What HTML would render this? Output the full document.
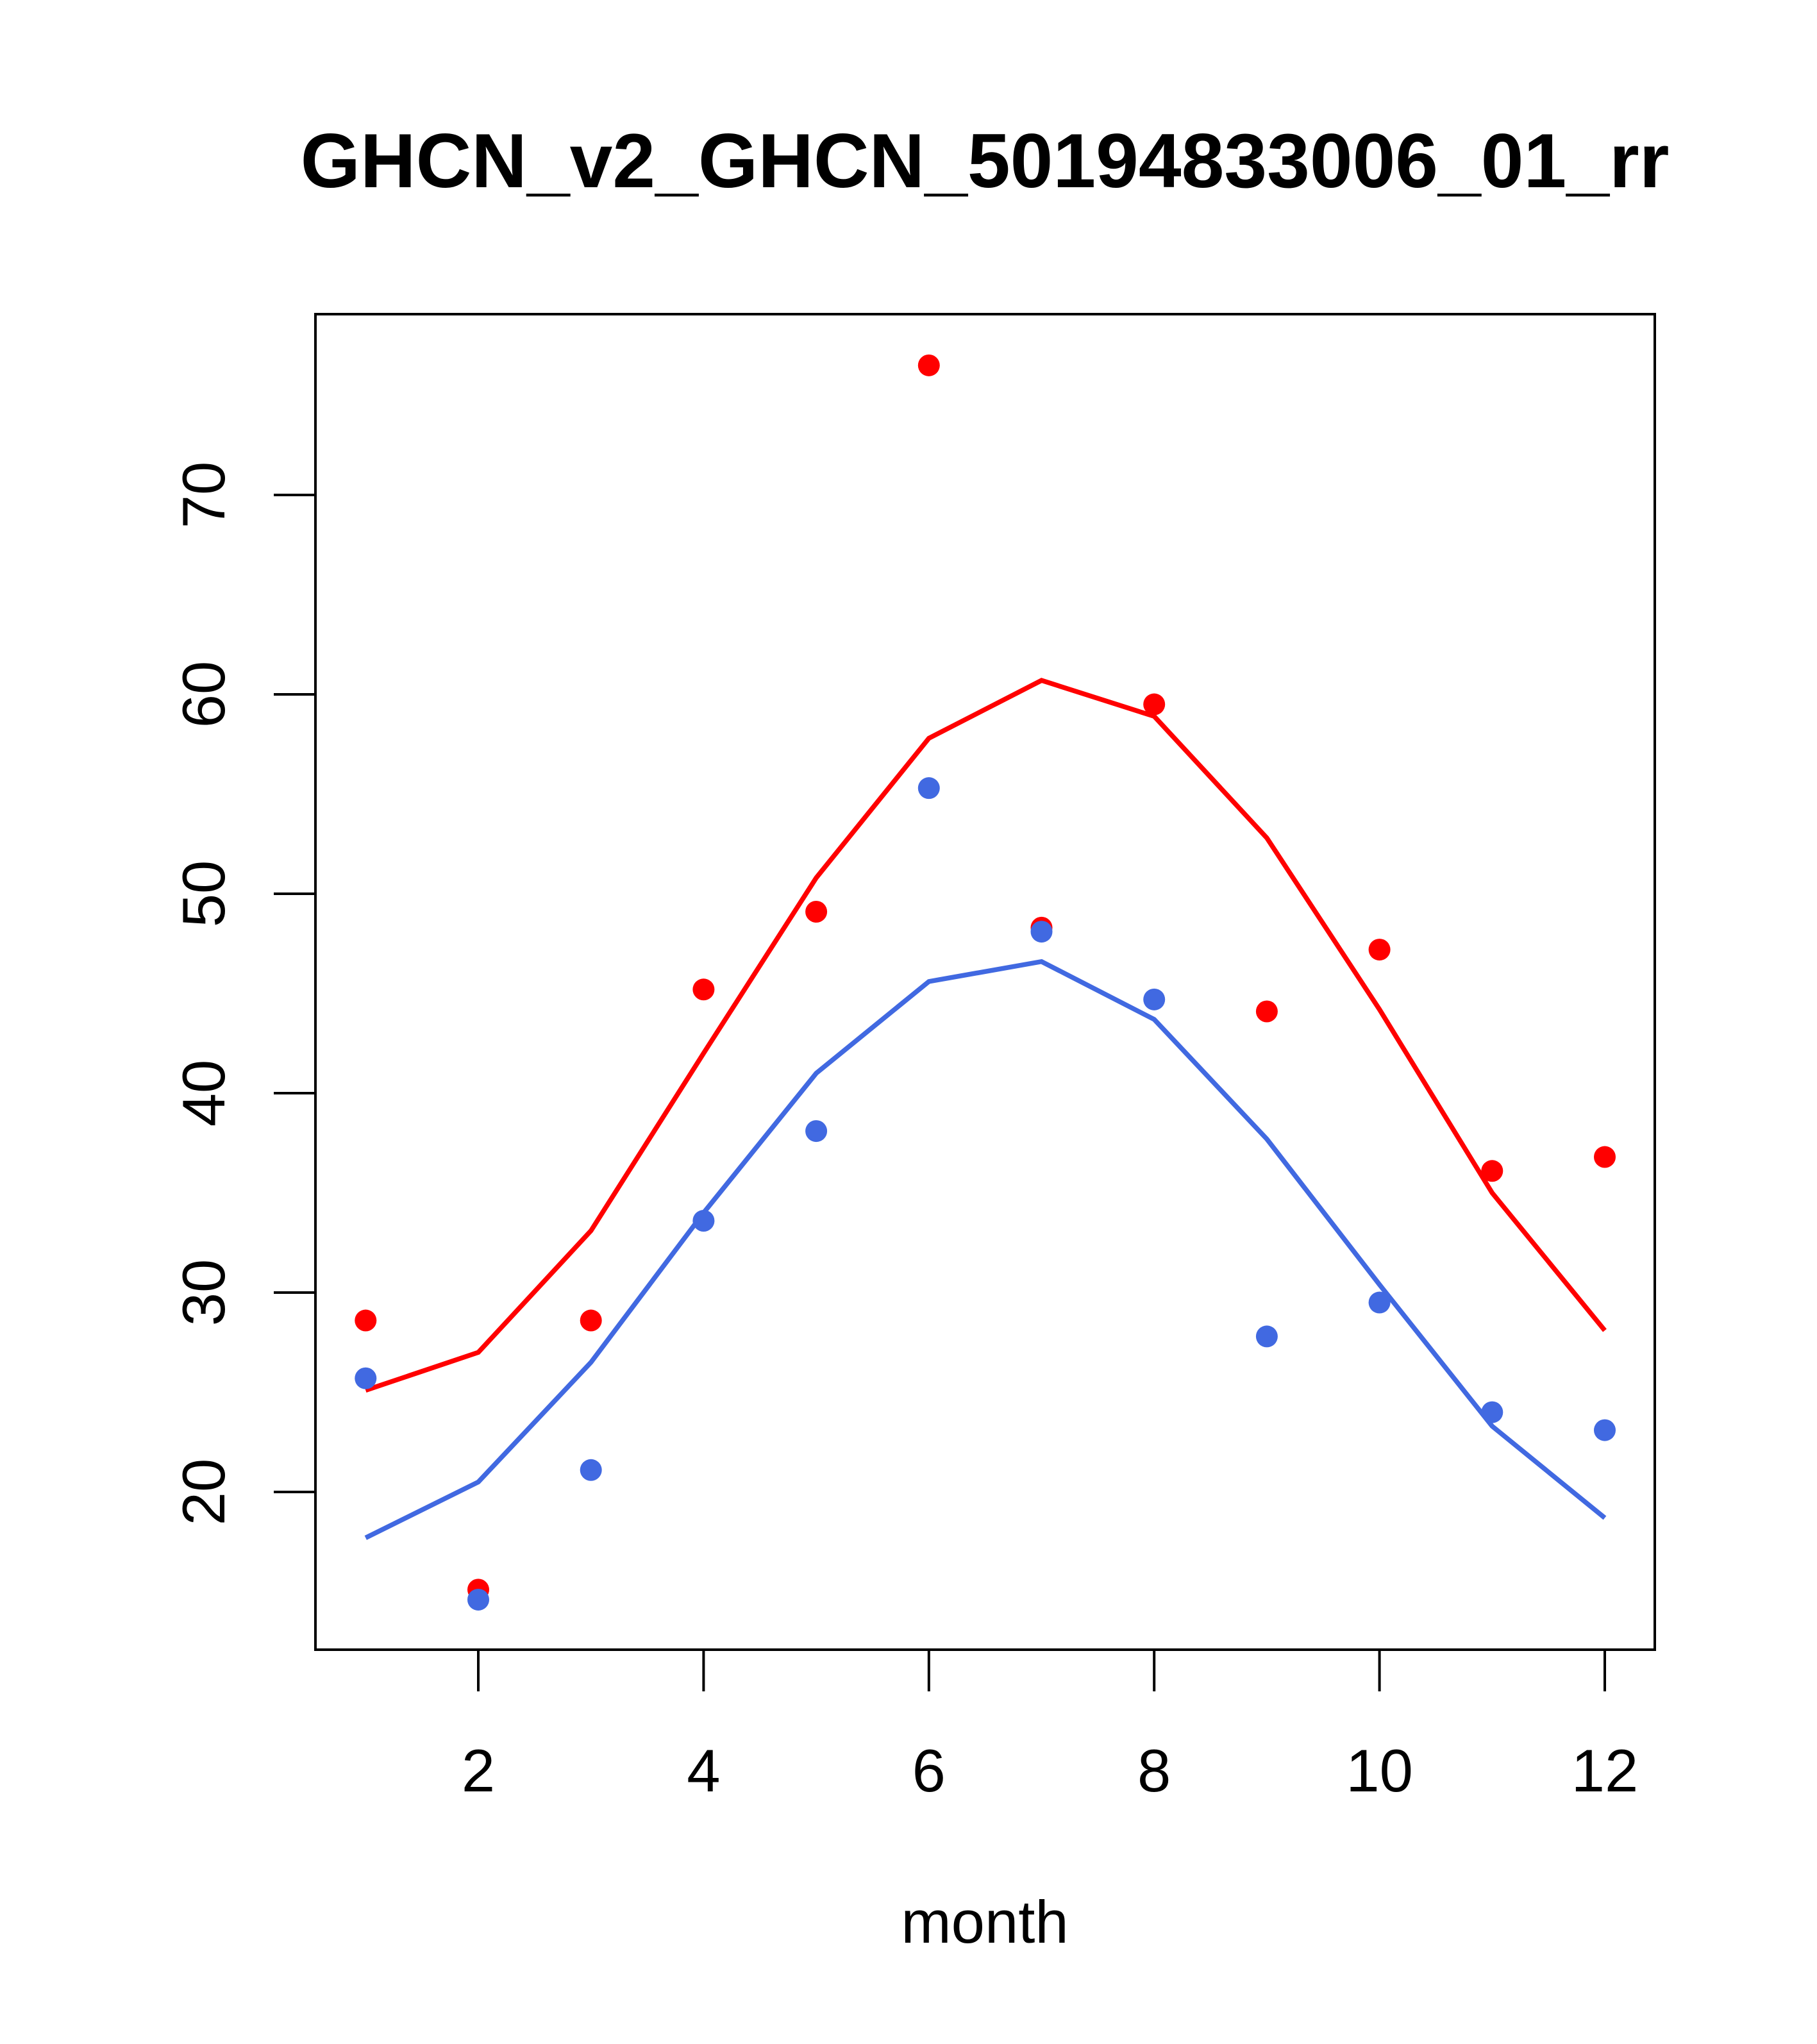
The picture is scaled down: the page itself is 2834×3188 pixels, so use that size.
<!DOCTYPE html>
<html><head><meta charset="utf-8"><style>html,body{margin:0;padding:0;background:#fff}svg{display:block}</style></head>
<body>
<svg id="chart" width="2834" height="3188" xmlns="http://www.w3.org/2000/svg" font-family="Liberation Sans, Arial, sans-serif">
<rect width="2834" height="3188" fill="#fff"/>
<text x="1536" y="292" font-size="120" font-weight="bold" text-anchor="middle">GHCN_v2_GHCN_50194833006_01_rr</text>
<rect x="492" y="490" width="2089" height="2083" fill="none" stroke="#000" stroke-width="4"/>
<text x="1536" y="3030" font-size="94" text-anchor="middle">month</text>
<g id="axes"></g><g id="series"></g>
</svg>
<script>
const months=[1,2,3,4,5,6,7,8,9,10,11,12];
const redPoints=[28.6,15.1,28.6,45.2,49.1,76.5,48.3,59.5,44.1,47.2,36.1,36.8];
const redLine=[25.1,27.0,33.1,42.0,50.8,57.8,60.7,58.9,52.8,44.2,35.0,28.1];
const bluePoints=[25.7,14.6,21.1,33.6,38.1,55.3,48.1,44.7,27.8,29.5,24.0,23.1];
const blueLine=[17.7,20.5,26.5,34.0,41.0,45.6,46.6,43.7,37.7,30.4,23.3,18.7];
const xTicks=[2,4,6,8,10,12];
const yTicks=[20,30,40,50,60,70];
const NS="http://www.w3.org/2000/svg";
function xs(m){return 746+(m-2)*(2503-746)/10;}
function ys(v){return 2327-(v-20)*(2327-772)/50;}
function mk(tag,attrs,parent){const e=document.createElementNS(NS,tag);for(const k in attrs)e.setAttribute(k,attrs[k]);parent.appendChild(e);return e;}
const ax=document.getElementById('axes'),se=document.getElementById('series');
mk('line',{x1:xs(2),x2:xs(12),y1:2573,y2:2573,stroke:'#000','stroke-width':4},ax);
xTicks.forEach(t=>{
 const l=mk('line',{x1:xs(t),x2:xs(t),y1:2573,y2:2638,stroke:'#000','stroke-width':4},ax);
 
 
 const tx=mk('text',{x:xs(t),y:2794,'font-size':94,'text-anchor':'middle'},ax);tx.textContent=t;
 
 
});
mk('line',{x1:492,x2:492,y1:ys(20),y2:ys(70),stroke:'#000','stroke-width':4},ax);
yTicks.forEach(t=>{
 const l=mk('line',{x1:427,x2:492,y1:ys(t),y2:ys(t),stroke:'#000','stroke-width':4},ax);
 
 
 const tx=mk('text',{x:0,y:0,'font-size':94,'text-anchor':'middle',transform:`translate(350,${ys(t)}) rotate(-90)`},ax);tx.textContent=t;
 
 
});
function line(vals,color,name){
 const p=mk('polyline',{points:vals.map((v,i)=>xs(months[i])+','+ys(v)).join(' '),fill:'none',stroke:color,'stroke-width':7.5},se);
 
 
}
function pts(vals,color,name){
 vals.forEach((v,i)=>{const c=mk('circle',{cx:xs(months[i]),cy:ys(v),r:17,fill:color},se);
 
 });
}
line(redLine,'#ff0000','red-line');
line(blueLine,'#4169e1','blue-line');
pts(redPoints,'#ff0000','red-point');
pts(bluePoints,'#4169e1','blue-point');
</script>
</body></html>
